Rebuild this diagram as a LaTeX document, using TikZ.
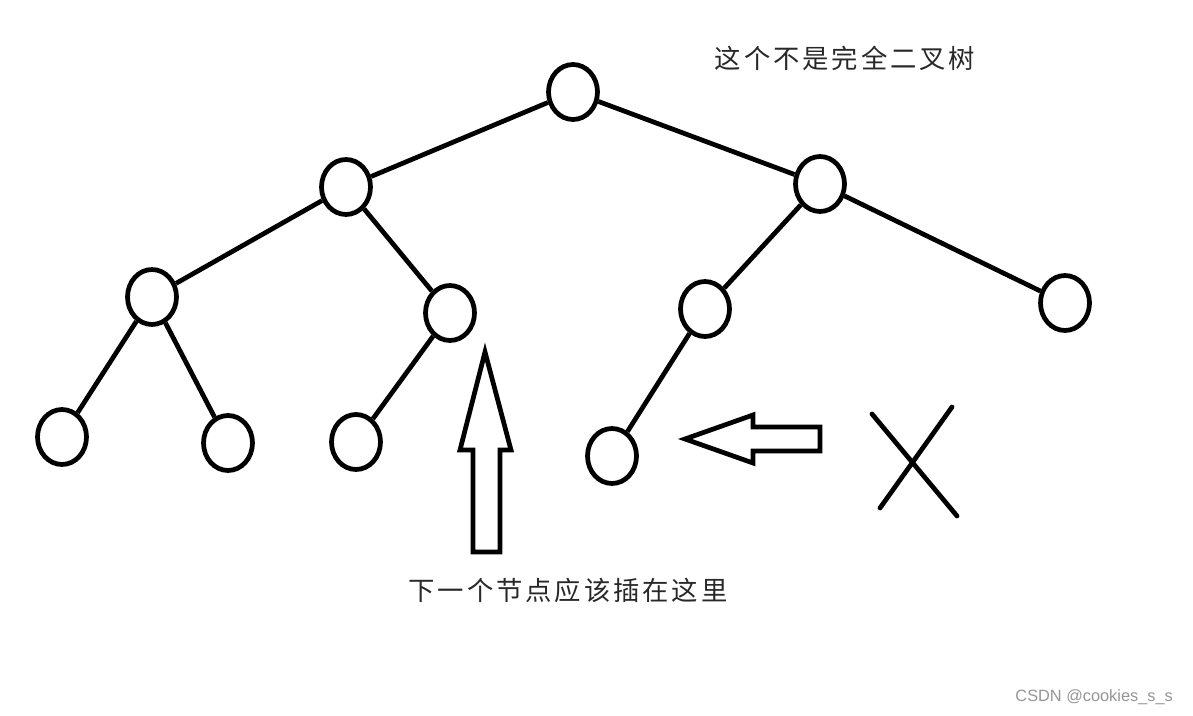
\documentclass[tikz,border=0pt]{standalone}
\usepackage{fontspec}
\setsansfont{Liberation Sans}
\newfontfamily\cjk[LetterSpace=11]{Noto Sans CJK SC}
\usetikzlibrary{shapes.geometric}
\definecolor{inkgrey}{RGB}{40,40,40}
\definecolor{markgrey}{RGB}{150,150,150}
\tikzset{
  tnode/.style={draw,ellipse,line width=2.7pt,inner sep=0pt,minimum width=0.98cm,minimum height=1.1cm},
  edge/.style={line width=2.7pt},
  fatarrow/.style={line width=2.7pt,line join=miter},
  cross/.style={line width=2.7pt,line cap=round},
  note/.style={font=\cjk\fontsize{15}{17}\selectfont,text=inkgrey}
}
\begin{document}
\begin{tikzpicture}[x=0.02cm,y=-0.02cm]
  \useasboundingbox[fill=white] (0,0) rectangle (1193,716);
  % tree nodes
  \node[tnode] (root) at (573,92) {};
  \node[tnode] (l) at (346,187) {};
  \node[tnode] (r) at (820,184) {};
  \node[tnode] (ll) at (152,297) {};
  \node[tnode] (lr) at (450,313) {};
  \node[tnode] (rl) at (705,309) {};
  \node[tnode] (rr) at (1065,303) {};
  \node[tnode] (lll) at (62,437) {};
  \node[tnode] (llr) at (228,443) {};
  \node[tnode] (lrl) at (356,442) {};
  \node[tnode] (rll) at (612,456) {};
  % edges
  \draw[edge] (root) -- (l);
  \draw[edge] (root) -- (r);
  \draw[edge] (l) -- (ll);
  \draw[edge] (l) -- (lr);
  \draw[edge] (r) -- (rl);
  \draw[edge] (r) -- (rr);
  \draw[edge] (ll) -- (lll);
  \draw[edge] (ll) -- (llr);
  \draw[edge] (lr) -- (lrl);
  \draw[edge] (rl) -- (rll);
  % hollow arrows
  \draw[fatarrow] (485,352) -- (511,450) -- (500,450) -- (500,552) -- (473,552) -- (473,450) -- (460,450) -- cycle;
  \draw[fatarrow] (685,439) -- (753,415) -- (753,427) -- (820,427) -- (820,451) -- (753,451) -- (753,463) -- cycle;
  % cross
  \draw[cross] (872,414) -- (957,516);
  \draw[cross] (952,407) -- (880,508);
  % texts
  \node[note] (title) at (845,58) {这个不是完全二叉树};
  \node[note] (hint) at (568,590) {下一个节点应该插在这里};
  \node[font=\sffamily\fontsize{9.3}{11}\selectfont,text=markgrey,anchor=east] (mark) at (1179,697) {CSDN @cookies\_s\_s};
  % edge mark at left
  \draw[markgrey,line width=1pt] (-1,74) arc (-60:60:-8);
\end{tikzpicture}
\end{document}
